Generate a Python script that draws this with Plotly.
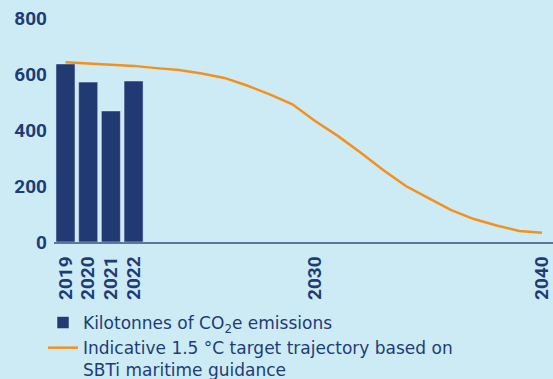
import plotly.graph_objects as go

bar_years = [2019, 2020, 2021, 2022]
emissions = [636, 571, 468, 575]

line_years = list(range(2019, 2041))
trajectory = [642, 637, 634, 629, 621, 614, 602, 586, 559, 527, 492, 432,
              379, 320, 257, 200, 157, 114, 82, 59, 39, 33]

tick_years = [2019, 2020, 2021, 2022, 2030, 2040]
y_ticks = [0, 200, 400, 600, 800]

NAVY = "#213a73"
TEXT = "#1d3c78"
ORANGE = "#f39020"
BG = "#cdebf4"

fig = go.Figure()
fig.add_trace(go.Bar(
    x=bar_years, y=emissions, width=0.84, marker_color=NAVY,
    name="Kilotonnes of CO<sub>2</sub>e emissions",
))
fig.add_trace(go.Scatter(
    x=line_years, y=trajectory, mode="lines",
    line=dict(color=ORANGE, width=2.5),
    name="Indicative 1.5 °C target trajectory based on<br>SBTi maritime guidance",
))

fig.update_layout(
    width=553, height=379,
    margin=dict(l=54, r=0, t=18, b=137, autoexpand=False),
    paper_bgcolor=BG, plot_bgcolor=BG,
    showlegend=True,
    legend=dict(
        xref="container", yref="container",
        x=43/553, y=1 - 305/379, xanchor="left", yanchor="top",
        font=dict(family="DejaVu Sans", size=17, color=TEXT),
        bgcolor="rgba(0,0,0,0)", tracegroupgap=0,
        traceorder="normal", valign="top",
    ),
    xaxis=dict(
        range=[2018.493, 2040.485],
        tickvals=tick_years, ticktext=[str(v) for v in tick_years],
        tickangle=-90, ticks="", showgrid=False, zeroline=False,
        showline=True, linecolor="#5d7699", linewidth=1.5,
        tickfont=dict(family="Roboto", size=19, color=TEXT, weight=700),
        ticklabelstandoff=5, ticklabeloverflow="allow",
    ),
    yaxis=dict(
        range=[0, 800], tickvals=y_ticks,
        ticks="", showgrid=False, zeroline=False, showline=False,
        tickfont=dict(family="Roboto", size=19, color=TEXT, weight=700),
        ticklabelstandoff=6,
    ),
)

fig.write_html("out.html")
